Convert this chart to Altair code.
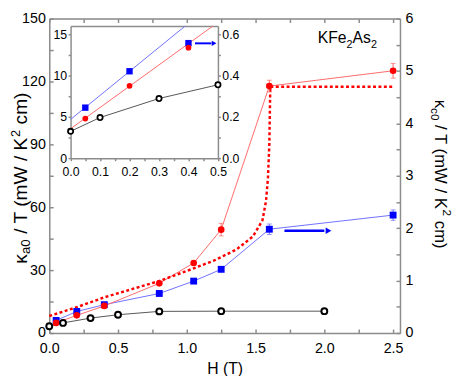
import altair as alt
import pandas as pd

FONT = "Liberation Sans"
GRAY = "#8c8c8c"

# ---------------- main panel data ----------------
H_black = [0.0, 0.1, 0.3, 0.5, 0.8, 1.25, 2.0]
k_black = [3.2, 4.8, 7.1, 8.7, 10.3, 10.4, 10.4]

H_red = [0.05, 0.2, 0.4, 0.8, 1.05, 1.25, 1.6, 2.5]
k_red = [4.8, 8.4, 12.9, 23.7, 33.4, 49.3, 117.8, 125.1]
err_red = [0, 0, 0, 0, 0, 3.0, 2.8, 3.5]

H_blue = [0.05, 0.2, 0.4, 0.8, 1.05, 1.25, 1.6, 2.5]
k_blue = [0.24, 0.41, 0.54, 0.754, 0.99, 1.215, 1.98, 2.25]   # right axis (kappa_c0/T)
err_blue = [0, 0, 0, 0, 0, 0, 0.1, 0.1]

H_dot = [0.0, 0.2, 0.4, 0.6, 0.8, 1.0, 1.2, 1.36, 1.48, 1.55, 1.576, 1.59, 1.6, 1.607, 2.5]
k_dot = [8.1, 12.3, 17.0, 20.9, 24.8, 29.6, 34.6, 39.8, 46.0, 53.7, 63.0, 74.0, 90.0, 117.5, 117.5]

arrow_H = [1.71, 2.0]
arrow_k = [1.95, 1.95]
arrow_tip_H = [2.03]

# ---------------- inset data ----------------
iH_black = [0.0, 0.1, 0.3, 0.5]
ik_black = [3.26, 4.93, 7.23, 8.89]
iH_red = [0.05, 0.2, 0.4]
ik_red = [4.81, 8.77, 13.38]
iH_blue = [0.05, 0.2, 0.4]
ik_blue = [0.245, 0.421, 0.557]          # inset right axis
ifit_red_H = [0.0, 0.483]
ifit_red_k = [3.57, 16.0]
ifit_blue_H = [0.0, 0.389]
ifit_blue_k = [0.188, 0.64]
iarrow_H = [0.422, 0.478]
iarrow_k = [0.556, 0.556]
iarrow_tip_H = [0.487]

# ---------------- tick values ----------------
main_x_ticks = [0.0, 0.5, 1.0, 1.5, 2.0, 2.5]
main_x_minor = [0.0, 0.25, 0.5, 0.75, 1.0, 1.25, 1.5, 1.75, 2.0, 2.25, 2.5]
main_y_ticks = [0, 30, 60, 90, 120, 150]
main_y_minor = [0, 15, 30, 45, 60, 75, 90, 105, 120, 135, 150]
main_r_ticks = [0, 1, 2, 3, 4, 5, 6]
main_r_minor = [0, 0.5, 1, 1.5, 2, 2.5, 3, 3.5, 4, 4.5, 5, 5.5, 6]
inset_x_ticks = [0.0, 0.1, 0.2, 0.3, 0.4, 0.5]
inset_x_minor = [0.05, 0.15, 0.25, 0.35, 0.45]
inset_y_ticks = [0, 5, 10, 15]
inset_y_minor = [2.5, 7.5, 12.5]
inset_r_ticks = [0.0, 0.2, 0.4, 0.6]
inset_r_minor = [0.1, 0.3, 0.5]

W, HT = 357, 320

# ---------------- scales ----------------
SX = alt.Scale(domain=[0, 2.55], nice=False, zero=False)
SY = alt.Scale(domain=[0, 150], nice=False, zero=False)
SYR = alt.Scale(domain=[0, 6], nice=False, zero=False)
SXI = alt.Scale(domain=[0, 0.5], range=[21.7, 171.7], nice=False, zero=False)
SYI = alt.Scale(domain=[0, 16], range=[142.2, 7.5], nice=False, zero=False)
SYIR = alt.Scale(domain=[0, 0.64], range=[142.2, 7.5], nice=False, zero=False)


def ax(**kw):
    base = dict(grid=False, title=None, domainColor=GRAY, tickColor=GRAY,
                domainWidth=1.5, tickWidth=1.5, labelColor="black",
                labelFont=FONT, labelFlush=False, labelOverlap=False)
    base.update(kw)
    return alt.Axis(**base)


# main axes
AX_bottom_labels = ax(orient="bottom", values=main_x_ticks, format=".1f", ticks=False,
                      tickSize=0, labelPadding=8.5, labelFontSize=14.5,
                      title="H (T)", titleFont=FONT, titleFontSize=16,
                      titleFontWeight="normal", titleColor="black", titlePadding=6.5)
AX_bottom_ticks = ax(orient="top", offset=-HT, values=main_x_minor, labels=False,
                     domain=False, tickSize=4)
AX_top_ticks = ax(orient="bottom", offset=-HT, values=main_x_minor, labels=False,
                  tickSize=4)
AY_left_labels = ax(orient="left", values=main_y_ticks, format="d", ticks=False,
                    tickSize=0, labelPadding=4, labelFontSize=14.5)
AY_left_ticks = ax(orient="right", offset=-W, values=main_y_minor, labels=False,
                   domain=False, tickSize=4)
AYR_labels = ax(orient="right", values=main_r_ticks, format="d", ticks=False,
                tickSize=0, labelPadding=5, labelFontSize=14.5)
AYR_ticks = ax(orient="left", offset=-W, values=main_r_minor, labels=False,
               domain=False, tickSize=4)

# inset axes
AXI_labels = ax(orient="bottom", offset=-(HT - 142.2), values=inset_x_ticks, format=".1f",
                tickSize=2.5, labelPadding=5, labelFontSize=12.5)
AXI_minor = ax(orient="bottom", offset=-(HT - 142.2), values=inset_x_minor, labels=False,
               domain=False, tickSize=2.5)
AXI_top = ax(orient="top", offset=-7.5, values=inset_x_ticks, labels=False, ticks=False,
             tickSize=0)
AYI_labels = ax(orient="left", offset=-21.7, values=inset_y_ticks, format="d",
                tickSize=2.5, labelPadding=1.5, labelFontSize=12.5)
AYI_minor = ax(orient="left", offset=-21.7, values=inset_y_minor, labels=False,
               domain=False, tickSize=2.5)
AYIR_labels = ax(orient="right", offset=-(W - 171.7), values=inset_r_ticks, format=".1f",
                 tickSize=2.5, labelPadding=1.5, labelFontSize=12.5)
AYIR_minor = ax(orient="right", offset=-(W - 171.7), values=inset_r_minor, labels=False,
                domain=False, tickSize=2.5)


def X(field, scale, axis=None):
    return alt.X(field, type="quantitative", scale=scale, axis=axis)


def Y(field, scale, axis=None):
    return alt.Y(field, type="quantitative", scale=scale, axis=axis)


# ---------------- data frames ----------------
df_black = pd.DataFrame({"H": H_black, "k": k_black})
df_red = pd.DataFrame({"H": H_red, "k": k_red, "e": err_red})
df_blue = pd.DataFrame({"H": H_blue, "k": k_blue, "e": err_blue})
df_dot = pd.DataFrame({"H": H_dot, "k": k_dot})
df_arrow = pd.DataFrame({"H": arrow_H, "k": arrow_k})
df_tip = pd.DataFrame({"H": arrow_tip_H, "k": arrow_k[:1]})

df_red_err = df_red[df_red["e"] > 0].copy()
df_red_err["lo"] = df_red_err["k"] - df_red_err["e"]
df_red_err["hi"] = df_red_err["k"] + df_red_err["e"]
df_red_caps = pd.concat([df_red_err[["H"]].assign(y=df_red_err["lo"]),
                         df_red_err[["H"]].assign(y=df_red_err["hi"])])
df_blue_err = df_blue[df_blue["e"] > 0].copy()
df_blue_err["lo"] = df_blue_err["k"] - df_blue_err["e"]
df_blue_err["hi"] = df_blue_err["k"] + df_blue_err["e"]
df_blue_caps = pd.concat([df_blue_err[["H"]].assign(y=df_blue_err["lo"]),
                          df_blue_err[["H"]].assign(y=df_blue_err["hi"])])

dfi_black = pd.DataFrame({"H": iH_black, "k": ik_black})
dfi_red = pd.DataFrame({"H": iH_red, "k": ik_red})
dfi_blue = pd.DataFrame({"H": iH_blue, "k": ik_blue})
dfi_fit_red = pd.DataFrame({"H": ifit_red_H, "k": ifit_red_k})
dfi_fit_blue = pd.DataFrame({"H": ifit_blue_H, "k": ifit_blue_k})
dfi_arrow = pd.DataFrame({"H": iarrow_H, "k": iarrow_k})
dfi_tip = pd.DataFrame({"H": iarrow_tip_H, "k": iarrow_k[:1]})

RED_LINE = "#ff6a6a"
BLUE_LINE = "#6f6fff"

layers = []
# main lines
layers.append(alt.Chart(df_black).mark_line(color="#555555", strokeWidth=1).encode(
    x=X("H", SX, AX_bottom_labels), y=Y("k", SY, AY_left_labels)))
layers.append(alt.Chart(df_blue).mark_line(color=BLUE_LINE, strokeWidth=1).encode(
    x=X("H", SX), y=Y("k", SYR, AYR_labels)))
layers.append(alt.Chart(df_red).mark_line(color=RED_LINE, strokeWidth=1).encode(
    x=X("H", SX, AX_top_ticks), y=Y("k", SY)))
layers.append(alt.Chart(df_dot).mark_line(color="#ff0000", strokeWidth=2.5,
                                          strokeDash=[3, 2.5]).encode(
    x=X("H", SX), y=Y("k", SY)))
# error bars
layers.append(alt.Chart(df_red_err).mark_rule(color=RED_LINE, strokeWidth=1).encode(
    x=X("H", SX), y=Y("lo", SY), y2="hi"))
layers.append(alt.Chart(df_red_caps).mark_tick(orient="horizontal", size=5, thickness=1,
                                               color=RED_LINE).encode(
    x=X("H", SX), y=Y("y", SY)))
layers.append(alt.Chart(df_blue_err).mark_rule(color=BLUE_LINE, strokeWidth=1).encode(
    x=X("H", SX), y=Y("lo", SYR), y2="hi"))
layers.append(alt.Chart(df_blue_caps).mark_tick(orient="horizontal", size=5, thickness=1,
                                                color=BLUE_LINE).encode(
    x=X("H", SX), y=Y("y", SYR)))
# main points
layers.append(alt.Chart(df_blue).mark_point(shape="square", filled=True, color="#0000ff",
                                            size=49, opacity=1).encode(
    x=X("H", SX), y=Y("k", SYR, AYR_ticks)))
layers.append(alt.Chart(df_red).mark_point(shape="circle", filled=True, color="#ff0000",
                                           size=46, opacity=1).encode(
    x=X("H", SX), y=Y("k", SY)))
layers.append(alt.Chart(df_black).mark_point(shape="circle", filled=True, fill="white",
                                             stroke="black", strokeWidth=2, size=36,
                                             opacity=1).encode(
    x=X("H", SX, AX_bottom_ticks), y=Y("k", SY, AY_left_ticks)))
# main arrow
layers.append(alt.Chart(df_arrow).mark_line(color="#0000ff", strokeWidth=2.5).encode(
    x=X("H", SX), y=Y("k", SYR)))
layers.append(alt.Chart(df_tip).mark_point(shape="triangle-right", filled=True,
                                           color="#0000ff", size=45, opacity=1).encode(
    x=X("H", SX), y=Y("k", SYR)))

# inset
layers.append(alt.Chart(dfi_black).mark_line(color="#555555", strokeWidth=1).encode(
    x=X("H", SXI, AXI_labels), y=Y("k", SYI, AYI_labels)))
layers.append(alt.Chart(dfi_fit_blue).mark_line(color=BLUE_LINE, strokeWidth=1).encode(
    x=X("H", SXI), y=Y("k", SYIR, AYIR_labels)))
layers.append(alt.Chart(dfi_fit_red).mark_line(color=RED_LINE, strokeWidth=1).encode(
    x=X("H", SXI, AXI_top), y=Y("k", SYI)))
layers.append(alt.Chart(dfi_blue).mark_point(shape="square", filled=True, color="#0000ff",
                                             size=42, opacity=1).encode(
    x=X("H", SXI), y=Y("k", SYIR, AYIR_minor)))
layers.append(alt.Chart(dfi_red).mark_point(shape="circle", filled=True, color="#ff0000",
                                            size=34, opacity=1).encode(
    x=X("H", SXI), y=Y("k", SYI)))
layers.append(alt.Chart(dfi_black).mark_point(shape="circle", filled=True, fill="white",
                                              stroke="black", strokeWidth=1.8, size=28,
                                              opacity=1).encode(
    x=X("H", SXI, AXI_minor), y=Y("k", SYI, AYI_minor)))
layers.append(alt.Chart(dfi_arrow).mark_line(color="#0000ff", strokeWidth=2).encode(
    x=X("H", SXI), y=Y("k", SYIR)))
layers.append(alt.Chart(dfi_tip).mark_point(shape="triangle-right", filled=True,
                                            color="#0000ff", size=30, opacity=1).encode(
    x=X("H", SXI), y=Y("k", SYIR)))

# ---------------- text ----------------
one = pd.DataFrame({"a": [0]})


def txt(s, x, y, size, angle=0):
    kw = dict(text=s, font=FONT, fontSize=size, align="left", baseline="alphabetic",
              color="black")
    if angle:
        kw["angle"] = angle
    return alt.Chart(one).mark_text(**kw).encode(x=alt.value(x), y=alt.value(y))


# left title (reads upward)
layers += [
    txt("κ", -23.0, 249.5, 19.5, 270),
    txt("a0", -19.5, 239.7, 13.5, 270),
    txt("/ T (mW / K", -23.0, 219.0, 19.5, 270),
    txt("2", -29.5, 120.4, 13, 270),
    txt("cm)", -23.0, 107.7, 19.5, 270),
]
# right title (reads downward)
layers += [
    txt("κ", 392.5, 82.5, 17, 90),
    txt("c0", 389.0, 91.0, 12, 90),
    txt("/ T (mW / K", 392.5, 108.4, 17, 90),
    txt("2", 400.5, 194.4, 12, 90),
    txt("cm)", 392.5, 205.8, 17, 90),
]
# compound label
layers += [
    txt("KFe", 273.3, 25.2, 16),
    txt("2", 302.6, 29.5, 11),
    txt("As", 308.7, 25.2, 16),
    txt("2", 327.4, 29.5, 11),
]

chart = (
    alt.layer(*layers)
    .resolve_scale(x="independent", y="independent")
    .resolve_axis(x="independent", y="independent")
    .properties(width=W, height=HT,
                padding={"left": 42, "top": 7.5, "right": 56, "bottom": 40.5},
                autosize=alt.AutoSizeParams(type="none"))
    .configure_view(stroke="transparent")
    .configure(font=FONT)
)

chart.save("out.html", embed_options={"renderer": "svg", "actions": False})
